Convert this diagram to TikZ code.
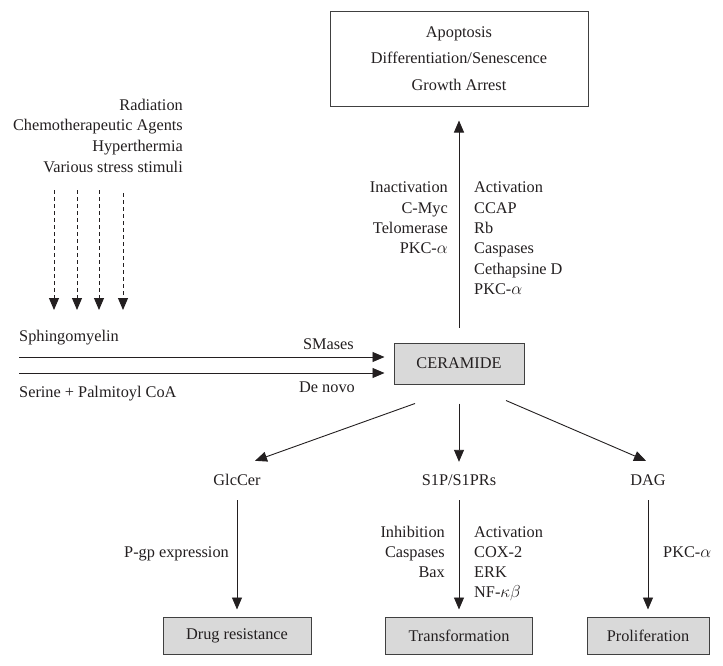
\documentclass[tikz,border=0pt]{standalone}
\usepackage{fontspec}
\setmainfont{Liberation Serif}
\usetikzlibrary{arrows.meta}
\definecolor{inkc}{RGB}{35,31,32}
\definecolor{boxgray}{RGB}{217,217,217}
\definecolor{edgegray}{RGB}{64,64,64}
\begin{document}
\begin{tikzpicture}
[x=1pt,y=-1pt,
  font=\fontsize{16.3}{19}\selectfont,
  textdecorate/.style={inner sep=0pt,text=inkc,text height=11pt,text depth=4pt},
  boxdecorate/.style={draw=edgegray,line width=1pt,fill=boxgray,inner sep=0pt,text=inkc},
  arrowdecorate/.style={draw=inkc,line width=0.9pt,-{Triangle[length=12pt,width=10pt]}},
  dashdecorate/.style={arrowdecorate,dash pattern=on 4pt off 3pt}]
\fill[white] (0,0) rectangle (723,665);
\path[use as bounding box] (0,0) rectangle (723,665);
%% boxes
\node[boxdecorate,fill=white,minimum width=258pt,minimum height=95pt,align=center,
  font=\fontsize{16.3}{26.5}\selectfont] (effects) at (459,58.5)
  {Apoptosis\\Differentiation/Senescence\\Growth Arrest};
\node[boxdecorate,minimum width=130pt,minimum height=41pt] (ceramide) at (459,363.5) {CERAMIDE};
\foreach \name/\x/\w/\txt in {drugres/237/148/Drug resistance, transf/459/147/Transformation, prolif/648/122/Proliferation} {
  \node[boxdecorate,minimum width=\w pt,minimum height=37pt] (\name) at (\x,635.5) {\txt};
}
%% metabolites
\node[textdecorate,anchor=base] (glccer) at (237,485) {GlcCer};
\node[textdecorate,anchor=base] (s1p) at (459,485) {S1P/S1PRs};
\node[textdecorate,anchor=base] (dag) at (648,485) {DAG};
%% stimuli
\foreach \txt [count=\i] in {Radiation, Chemotherapeutic Agents, Hyperthermia, Various stress stimuli} {
  \node[textdecorate,anchor=base east] (stim\i) at (183,89.5+\i*20.7) {\txt};
}
\foreach \i/\x/\ystart in {1/54/190, 2/77/190, 3/99/190, 4/123/193} {
  \coordinate (dtop\i) at (\x,\ystart);
  \coordinate (dtip\i) at (\x,310);
  \draw[dashdecorate] (dtop\i) -- (dtip\i);
}
%% sources
\node[textdecorate,anchor=base west] (sphingo) at (19,341) {Sphingomyelin};
\node[textdecorate,anchor=base west] (serine) at (19,397) {Serine + Palmitoyl CoA};
\node[textdecorate,anchor=base east] (smases) at (354,349) {SMases};
\node[textdecorate,anchor=base east] (denovo) at (355,392) {De novo};
\coordinate (smstart) at (19,357);
\coordinate (dnstart) at (19,373);
\draw[arrowdecorate,shorten >=9pt] (smstart) -- (smstart -| ceramide.west);
\draw[arrowdecorate,shorten >=9pt] (dnstart) -- (dnstart -| ceramide.west);
%% upward effects
\draw[arrowdecorate,shorten <=15pt,shorten >=14pt] (ceramide.north) -- (effects.south);
\foreach \txt [count=\i] in {Inactivation, C-Myc, Telomerase, PKC-$\alpha$} {
  \node[textdecorate,anchor=base east] (inact\i) at (448,172.5+\i*20.3) {\txt};
}
\foreach \txt [count=\i] in {Activation, CCAP, Rb, Caspases, Cethapsine D, PKC-$\alpha$} {
  \node[textdecorate,anchor=base west] (act\i) at (474,172.5+\i*20.3) {\txt};
}
%% downward branches
\draw[arrowdecorate] ([xshift=-44pt,yshift=-19pt]ceramide.south) -- ([xshift=18pt,yshift=13pt]glccer.north);
\draw[arrowdecorate,shorten <=19pt,shorten >=12pt] (ceramide.south) -- (s1p.north);
\draw[arrowdecorate] ([xshift=47pt,yshift=-16pt]ceramide.south) -- ([xshift=-2pt,yshift=13pt]dag.north);
\path
\foreach \startnode/\endnode in {glccer/drugres, s1p/transf, dag/prolif} {
  (\startnode.south) edge[arrowdecorate,shorten <=11pt,shorten >=7pt] (\endnode.north)
};
\node[textdecorate,anchor=base east] (pgp) at (229,557) {P-gp expression};
\node[textdecorate,anchor=base west] (pkcdag) at (663,557) {PKC-$\alpha$};
\foreach \txt [count=\i] in {Inhibition, Caspases, Bax} {
  \node[textdecorate,anchor=base east] (inhib\i) at (445,516.7+\i*20.3) {\txt};
}
\foreach \txt [count=\i] in {Activation, COX-2, ERK, NF-$\kappa\beta$} {
  \node[textdecorate,anchor=base west] (activ\i) at (474,516.7+\i*20.3) {\txt};
}
\end{tikzpicture}
\end{document}
